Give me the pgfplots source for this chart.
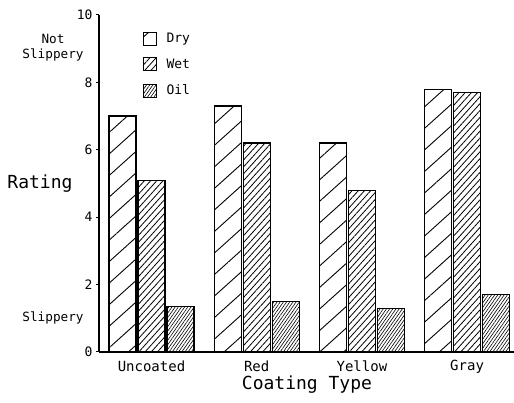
\documentclass[border=0pt]{standalone}
\usepackage{pgfplots}
\pgfplotsset{compat=1.18}
\usepackage{fontspec}
\setmainfont{DejaVu Sans Mono}
\usetikzlibrary{patterns.meta}
\begin{document}
\begin{tikzpicture}
\begin{axis}[
  x=105.2pt, y=33.7pt,
  xmin=-0.499, xmax=3.447, ymin=0, ymax=10,
  axis x line=bottom, axis y line=left,
  axis line style={line width=1.4pt,-},
  ytick={0,2,4,6,8,10},
  yticklabel style={font=\fontsize{13}{13}\selectfont},
  ytick style={line width=1pt,black},
  tick align=outside, major tick length=3pt,
  xtick={0,1,2,3},
  xticklabels={Uncoated,Red,Yellow,Gray},
  xticklabel style={font=\fontsize{14}{14}\selectfont, yshift=-2pt},
  xtick style={draw=none},
  /pgf/number format/assume math mode=true,
  ybar, bar width=27pt,
  clip=false,
  legend style={at={(axis cs:-0.085,9.53)}, anchor=north west, draw=none, fill=none,
    font=\fontsize{13}{13}\selectfont, row sep=11pt, inner sep=0pt,
    /tikz/every odd column/.style={column sep=0pt}},
  legend cell align=left,
  legend image code/.code={\draw[#1, line width=1pt] (0pt,-6.5pt) rectangle (13pt,6.5pt);},
]
\addplot[bar shift=-29pt, draw=black, line width=1.2pt,
  pattern={Lines[angle=42,distance=16pt,line width=0.9pt]}]
  coordinates {(0,7.0) (1,7.3) (2,6.2) (3,7.8)};
\addplot[bar shift=0pt, draw=black, line width=1.2pt,
  pattern={Lines[angle=48,distance=4.6pt,line width=0.8pt]}]
  coordinates {(0,5.1) (1,6.2) (2,4.8) (3,7.7)};
\addplot[bar shift=29pt, draw=black, line width=1.2pt,
  pattern={Lines[angle=55,distance=2.6pt,line width=0.6pt]}]
  coordinates {(0,1.35) (1,1.5) (2,1.3) (3,1.7)};
\legend{\ Dry,\ Wet,\ Oil}
\node[font=\fontsize{18}{18}\selectfont] at (axis cs:-1.06,5) {Rating};
\node[font=\fontsize{12.7}{15}\selectfont, align=center] at (axis cs:-0.936,9.02) {Not\\Slippery};
\node[font=\fontsize{12.7}{15}\selectfont] at (axis cs:-0.936,1.0) {Slippery};
\node[font=\fontsize{18}{18}\selectfont] at (axis cs:1.478,-0.96) {Coating Type};
\coordinate (O) at (axis cs:-0.499,0);
\end{axis}
\pgfresetboundingbox
\useasboundingbox ([xshift=-99pt,yshift=-51pt]O) rectangle ([xshift=415pt,yshift=352pt]O);
\end{tikzpicture}
\end{document}
